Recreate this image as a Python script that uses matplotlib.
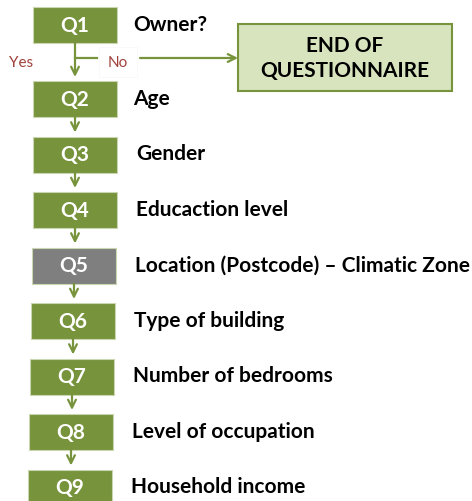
import matplotlib
matplotlib.use("Agg")
import matplotlib.pyplot as plt
from matplotlib.patches import Rectangle

plt.rcParams['font.family'] = ['Lato', 'DejaVu Sans']

# 问卷流程数据
codes = ['Q1', 'Q2', 'Q3', 'Q4', 'Q5', 'Q6', 'Q7', 'Q8', 'Q9']
questions = ['Owner?', 'Age', 'Gender', 'Educaction level',
             'Location (Postcode) \u2013 Climatic Zone', 'Type of building',
             'Number of bedrooms', 'Level of occupation', 'Household income']
grey_codes = ['Q5']
end_text = 'END OF\nQUESTIONNAIRE'
yes_label = 'Yes'
no_label = 'No'

GREEN = '#77933C'
GREY = '#7F7F7F'
LIGHT = '#D7E4BD'
RED = '#A0413B'

fig = plt.figure(figsize=(4.72, 5.02), dpi=100)
ax = fig.add_axes([0, 0, 1, 1])
ax.set_xlim(0, 472)
ax.set_ylim(502, 0)
ax.axis('off')

box_w, box_h = 84, 36


def box_top(i):
    # 第一个问题下方留出分支空间
    return 8 if i == 0 else 82 + 55.5 * (i - 1)


def box_left(i):
    return 33 - 1.0 * max(i - 3, 0)


for i, (code, q) in enumerate(zip(codes, questions)):
    x0, y0 = box_left(i), box_top(i)
    color = GREY if code in grey_codes else GREEN
    ax.add_patch(Rectangle((x0, y0), box_w, box_h, facecolor=color,
                           edgecolor='#C9D6B0', lw=0.8))
    cy = y0 + box_h / 2
    ax.text(x0 + box_w / 2, cy, code, color='white', fontsize=15,
            fontweight='bold', ha='center', va='center')
    off = 100 if i < 2 else 103
    ax.text(x0 + off, cy - 1, q, color='black', fontsize=15,
            fontweight='bold', ha='left', va='center')

    # 箭头指向下一个问题
    if i < len(codes) - 1:
        cx = x0 + box_w / 2
        nxt = box_top(i + 1)
        ax.annotate('', xy=(cx, nxt - 4), xytext=(cx, y0 + box_h),
                    arrowprops=dict(arrowstyle='->', color=GREEN, lw=1.6,
                                    mutation_scale=14, shrinkA=0, shrinkB=0))

# 分支: No -> 问卷结束
cx0 = box_left(0) + box_w / 2
by = 59
ax.plot([cx0, 97], [by, by], color=GREEN, lw=1.6)
ax.text(118, 63, no_label, color=RED, fontsize=11, ha='center', va='center',
        bbox=dict(boxstyle='square,pad=0.55', facecolor='white',
                  edgecolor='#F7F7F7', lw=0.5))
ax.annotate('', xy=(238, by), xytext=(140, by),
            arrowprops=dict(arrowstyle='->', color=GREEN, lw=1.6,
                            mutation_scale=14, shrinkA=0, shrinkB=0))
ax.text(21, 63, yes_label, color=RED, fontsize=11, ha='center', va='center')

# 结束框
ax.add_patch(Rectangle((238, 25), 214, 67, facecolor=LIGHT,
                       edgecolor=GREEN, lw=1.5))
ax.text(345, 58.5, end_text, color='black', fontsize=15, fontweight='bold',
        ha='center', va='center', linespacing=1.25)

fig.savefig('out.png', dpi=100)
plt.close(fig)
